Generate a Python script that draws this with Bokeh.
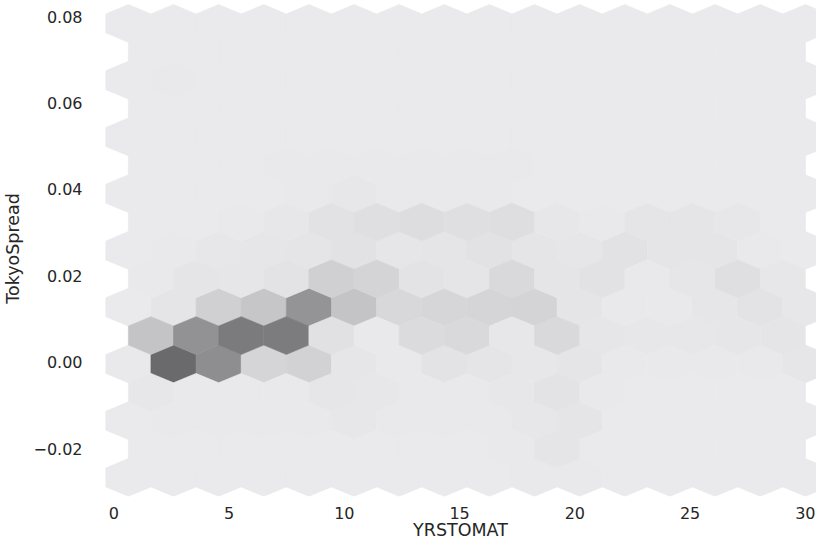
import numpy as np
from bokeh.plotting import figure
from bokeh.models import Range1d, FixedTicker, CustomJSTickFormatter, ColumnDataSource
from bokeh.embed import file_html
from bokeh.resources import INLINE

# ---------------- data ----------------
# hexbin extent of the data (gridsize=15 -> 15 x 8 hexagon grid)
X_MIN, X_MAX = 0.63, 30.0
Y_MIN, Y_MAX = -0.0267, 0.0784
NX, NY = 15, 8

# counts on lattice 1 (hexes centred on grid nodes); rows listed top (j=8) to bottom (j=0)
lattice1_counts = [
    [0, 0, 0, 0, 0, 0, 0, 0, 0, 0, 0, 0, 0, 0, 0, 0],
    [0, 1, 0, 0, 0, 0, 0, 0, 0, 0, 0, 0, 0, 0, 0, 0],
    [0, 0, 0, 0, 0, 0, 0, 0, 0, 0, 0, 0, 0, 0, 0, 0],
    [0, 0, 0, 0, 1, 2, 1, 1, 1, 0, 0, 0, 0, 0, 0, 0],
    [0, 1, 2, 3, 4, 6, 3, 4, 6, 4, 3, 6, 4, 4, 1, 0],
    [0, 4, 20, 27, 65, 29, 14, 15, 16, 17, 4, 1, 1, 3, 5, 2],
    [1, 97, 70, 16, 18, 3, 1, 5, 4, 2, 4, 1, 1, 1, 1, 3],
    [0, 1, 1, 1, 1, 2, 1, 1, 1, 2, 4, 0, 0, 0, 0, 0],
    [0, 0, 0, 0, 0, 0, 0, 0, 0, 1, 1, 0, 0, 0, 0, 0],
]
# counts on lattice 2 (offset hexes); rows listed top (j=7) to bottom (j=0)
lattice2_counts = [
    [0, 0, 0, 0, 0, 0, 0, 0, 0, 0, 0, 0, 0, 0, 0],
    [0, 0, 0, 0, 0, 0, 0, 0, 0, 0, 0, 0, 0, 0, 0],
    [0, 0, 0, 1, 1, 1, 1, 1, 1, 0, 0, 0, 0, 0, 0],
    [0, 0, 1, 2, 6, 8, 10, 8, 9, 2, 1, 4, 4, 2, 0],
    [1, 4, 3, 5, 20, 17, 5, 4, 13, 4, 6, 1, 3, 8, 2],
    [29, 67, 84, 83, 7, 1, 11, 13, 2, 13, 3, 2, 2, 3, 4],
    [2, 1, 1, 1, 3, 2, 1, 1, 2, 5, 1, 0, 0, 0, 0],
    [0, 0, 0, 0, 0, 0, 0, 0, 1, 4, 0, 0, 0, 0, 0],
]
C_MAX = 100

x_ticks = [0, 5, 10, 15, 20, 25, 30]
y_ticks = [-0.02, 0.0, 0.02, 0.04, 0.06, 0.08]
x_label = "YRSTOMAT"
y_label = "TokyoSpread"

# ---------------- geometry ----------------
sx = (X_MAX - X_MIN) / NX
sy = (Y_MAX - Y_MIN) / NY
hex_dx = sx * np.array([0.5, 0.5, 0.0, -0.5, -0.5, 0.0])
hex_dy = (sy / 3.0) * np.array([-0.5, 0.5, 1.0, 0.5, -0.5, -1.0])


def gray(c):
    t = min(c / C_MAX, 1.0)
    v = 234 - 132 * t
    return "#%02x%02x%02x" % (int(round(v)), int(round(v)), int(round(min(v + 3, 255))))


xs, ys, cols = [], [], []
for r, row in enumerate(lattice1_counts):
    j = NY - r
    for i, c in enumerate(row):
        xs.append(list(X_MIN + i * sx + hex_dx))
        ys.append(list(Y_MIN + j * sy + hex_dy))
        cols.append(gray(c))
for r, row in enumerate(lattice2_counts):
    j = NY - 1 - r
    for i, c in enumerate(row):
        xs.append(list(X_MIN + (i + 0.5) * sx + hex_dx))
        ys.append(list(Y_MIN + (j + 0.5) * sy + hex_dy))
        cols.append(gray(c))

src = ColumnDataSource(dict(xs=xs, ys=ys, c=cols))

# ---------------- figure ----------------
p = figure(width=816, height=543,
           x_range=Range1d(-0.4055, 30.483), y_range=Range1d(-0.031111, 0.083704),
           output_backend="svg", toolbar_location=None,
           min_border_left=100, min_border_right=0, min_border_top=0, min_border_bottom=47)
p.outline_line_color = None
p.background_fill_color = "white"
p.border_fill_color = "white"
p.xgrid.visible = False
p.ygrid.visible = False

p.patches("xs", "ys", source=src, fill_color="c", line_color="c", line_width=0.6)

FONT = "DejaVu Sans"
TXT = "#262626"

for ax in (p.xaxis[0], p.yaxis[0]):
    ax.axis_line_color = None
    ax.major_tick_line_color = None
    ax.minor_tick_line_color = None
    ax.major_tick_out = 0
    ax.major_tick_in = 0
    ax.major_label_text_font = FONT
    ax.major_label_text_font_size = "16px"
    ax.major_label_text_color = TXT
    ax.axis_label_text_font = FONT
    ax.axis_label_text_font_size = "17.5px"
    ax.axis_label_text_font_style = "normal"
    ax.axis_label_text_color = TXT

p.xaxis.ticker = FixedTicker(ticks=x_ticks)
p.xaxis.formatter = CustomJSTickFormatter(code="return tick.toFixed(0);")
p.xaxis.major_label_standoff = 10
p.xaxis.axis_label = x_label
p.xaxis.axis_label_standoff = -2

p.yaxis.ticker = FixedTicker(ticks=y_ticks)
p.yaxis.formatter = CustomJSTickFormatter(
    code="return (tick < -1e-12 ? '\\u2212' : '') + Math.abs(tick).toFixed(2);")
p.yaxis.major_label_standoff = 22
p.yaxis.axis_label = y_label
p.yaxis.axis_label_standoff = 7

open("out.html", "w").write(file_html(p, INLINE))
